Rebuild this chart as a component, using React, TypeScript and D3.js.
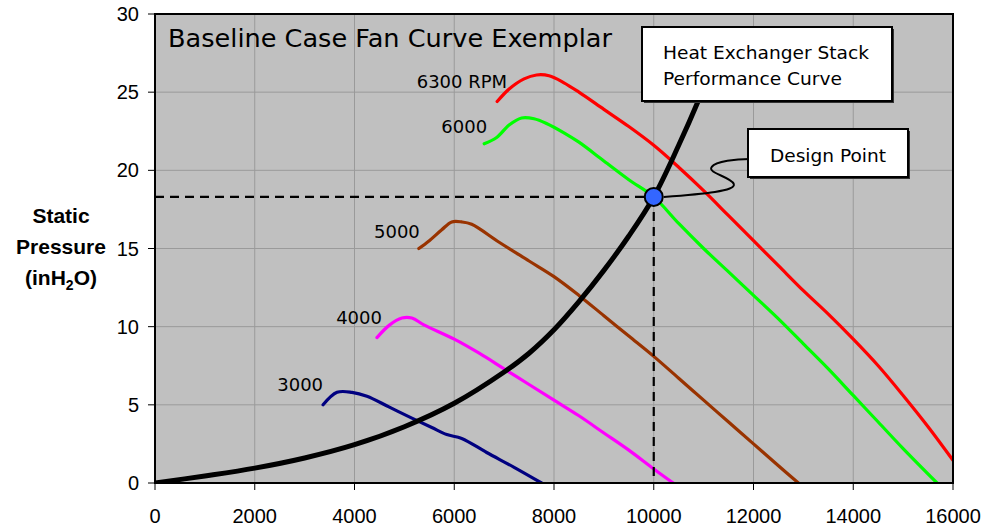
import React from "react";
import * as d3 from "d3";

const xTicks = [0, 2000, 4000, 6000, 8000, 10000, 12000, 14000, 16000];
const yTicks = [0, 5, 10, 15, 20, 25, 30];

const rpm6300: [number, number][] = [
  [6860, 24.4], [7100, 25.2], [7400, 25.85], [7650, 26.1], [7900, 26.05], [8200, 25.6], [8500, 25.0],
  [9000, 23.9], [9500, 22.8], [10000, 21.6], [10500, 20.2], [11000, 18.7], [11500, 17.1], [12000, 15.5],
  [12500, 13.9], [13000, 12.3], [13500, 10.8], [14000, 9.2], [14500, 7.5], [15000, 5.6], [15500, 3.6], [16000, 1.45],
];
const rpm6000: [number, number][] = [
  [6600, 21.7], [6850, 22.1], [7100, 22.9], [7350, 23.35], [7600, 23.3], [7850, 23.0], [8200, 22.4],
  [8500, 21.8], [9000, 20.6], [9500, 19.4], [10000, 18.3], [10500, 16.6], [11000, 15.0], [11500, 13.5],
  [12000, 12.0], [12500, 10.5], [13000, 8.9], [13500, 7.3], [14000, 5.6], [14500, 3.9], [15000, 2.2], [15680, 0],
];
const rpm5000: [number, number][] = [
  [5290, 15.0], [5500, 15.5], [5750, 16.2], [5950, 16.7], [6150, 16.7], [6350, 16.55], [6900, 15.4],
  [7500, 14.2], [8000, 13.2], [8500, 12.0], [9000, 10.7], [9500, 9.4], [10000, 8.1], [10500, 6.7],
  [11000, 5.3], [11500, 3.9], [12000, 2.5], [12500, 1.1], [12900, 0],
];
const rpm4000: [number, number][] = [
  [4450, 9.3], [4700, 10.1], [4950, 10.55], [5150, 10.55], [5400, 10.1], [6000, 9.2], [6500, 8.3],
  [7000, 7.3], [7500, 6.3], [8000, 5.3], [8500, 4.3], [9000, 3.2], [9500, 2.1], [10000, 0.9], [10390, 0],
];
const rpm3000: [number, number][] = [
  [3370, 5.0], [3650, 5.8], [3950, 5.8], [4250, 5.55], [4700, 4.85], [5150, 4.15], [5550, 3.55],
  [5850, 3.1], [6150, 2.85], [6650, 1.95], [7200, 1.0], [7750, 0],
];
const systemCurve: [number, number][] = [
  [0, 0], [1000, 0.45], [2000, 0.95], [3000, 1.6], [4000, 2.45], [5000, 3.6], [6000, 5.1],
  [7000, 7.1], [7500, 8.3], [8000, 9.8], [8500, 11.6], [9000, 13.6], [9500, 15.8], [10000, 18.3],
  [10500, 21.6], [10900, 24.5], [11000, 25.3],
];
const designPoint: [number, number] = [10000, 18.3];

const seriesNames = ["6300 RPM", "6000", "5000", "4000", "3000"];
const seriesData = [rpm6300, rpm6000, rpm5000, rpm4000, rpm3000];
const seriesColors = ["#ff0000", "#00ff00", "#993300", "#ff00ff", "#000080"];
const labelDx = [10, 3, 1, 5, 0];
const labelDy = [-14, -11, -11, -14, -14];

const W = 986, H = 529;
const L = 155, R = 953, T = 14, B = 483;

export default function App() {
  const x = d3.scaleLinear().domain([0, 16000]).range([L, R]);
  const y = d3.scaleLinear().domain([0, 30]).range([B, T]);
  const line = d3.line<[number, number]>().x(d => x(d[0])).y(d => y(d[1])).curve(d3.curveCatmullRom.alpha(0.5));
  const dpx = x(designPoint[0]);
  const dpy = y(designPoint[1]);
  const tickFont = "'Liberation Sans', Arial, sans-serif";
  const labFont = "'DejaVu Sans', Verdana, sans-serif";

  const leader = `M ${dpx + 10},${dpy} C ${dpx + 50},${dpy - 3} ${dpx + 83},${dpy - 6} ${dpx + 80},${dpy - 13} C ${dpx + 77},${dpy - 20} ${dpx + 53},${dpy - 24} ${dpx + 58},${dpy - 30} C ${dpx + 62},${dpy - 36} ${dpx + 83},${dpy - 38} ${dpx + 96},${dpy - 38}`;

  return (
    <svg width={W} height={H} style={{ position: "absolute", left: 0, top: 0, background: "#fff" }}>
      <defs>
        <clipPath id="plot">
          <rect x={L} y={T} width={R - L} height={B - T} />
        </clipPath>
      </defs>
      <rect x={L} y={T} width={R - L} height={B - T} fill="#c0c0c0" />
      {xTicks.map(t => (
        <line key={"gx" + t} x1={x(t)} x2={x(t)} y1={T} y2={B} stroke="#9a9a9a" strokeWidth={1} />
      ))}
      {yTicks.map(t => (
        <line key={"gy" + t} x1={L} x2={R} y1={y(t)} y2={y(t)} stroke="#9a9a9a" strokeWidth={1} />
      ))}
      <text x={168} y={47} fontFamily={labFont} fontSize={25} textLength={444} lengthAdjust="spacingAndGlyphs" fill="#000">
        Baseline Case Fan Curve Exemplar
      </text>
      <g clipPath="url(#plot)">
        {seriesData.map((d, i) => (
          <path key={seriesNames[i]} d={line(d) || ""} fill="none" stroke={seriesColors[i]} strokeWidth={3.2} strokeLinejoin="round" strokeLinecap="round" />
        ))}
        <line x1={L} x2={dpx} y1={dpy} y2={dpy} stroke="#000" strokeWidth={2.2} strokeDasharray="9,6" />
        <line x1={dpx} x2={dpx} y1={dpy} y2={B} stroke="#000" strokeWidth={2.2} strokeDasharray="9,6" />
        <path d={line(systemCurve) || ""} fill="none" stroke="#000" strokeWidth={5} strokeLinecap="round" />
      </g>
      {seriesData.map((d, i) => (
        <text key={"l" + i} x={x(d[0][0]) + labelDx[i]} y={y(d[0][1]) + labelDy[i]} textAnchor="end" fontFamily={labFont} fontSize={18} fill="#000">
          {seriesNames[i]}
        </text>
      ))}
      <path d={leader} fill="none" stroke="#000" strokeWidth={2} />
      <circle cx={dpx} cy={dpy} r={9} fill="#3366ff" stroke="#000" strokeWidth={2} />
      <rect x={644} y={29} width={250} height={74} fill="#333" />
      <rect x={642} y={27} width={250} height={74} fill="#fff" stroke="#000" strokeWidth={2} />
      <text x={663} y={59} fontFamily={labFont} fontSize={18} textLength={206} lengthAdjust="spacingAndGlyphs">Heat Exchanger Stack</text>
      <text x={663} y={85} fontFamily={labFont} fontSize={18} textLength={179} lengthAdjust="spacingAndGlyphs">Performance Curve</text>
      <rect x={750} y={131} width={160} height={48} fill="#333" />
      <rect x={748} y={129} width={160} height={48} fill="#fff" stroke="#000" strokeWidth={2} />
      <text x={770} y={162} fontFamily={labFont} fontSize={18} textLength={116} lengthAdjust="spacingAndGlyphs">Design Point</text>
      <rect x={L} y={T} width={R - L} height={B - T} fill="none" stroke="#000" strokeWidth={2} />
      {yTicks.map(t => (
        <g key={"ty" + t}>
          <line x1={L - 7} x2={L} y1={y(t)} y2={y(t)} stroke="#000" strokeWidth={1} />
          <text x={139} y={y(t)} dy="0.35em" textAnchor="end" fontFamily={tickFont} fontSize={20}>{t}</text>
        </g>
      ))}
      {xTicks.map(t => (
        <g key={"tx" + t}>
          <line x1={x(t)} x2={x(t)} y1={B} y2={B + 7} stroke="#000" strokeWidth={1} />
          <text x={x(t)} y={523} textAnchor="middle" fontFamily={tickFont} fontSize={20}>{t}</text>
        </g>
      ))}
      <g fontFamily={tickFont} fontSize={21} fontWeight="bold" textAnchor="middle">
        <text x={61} y={223}>Static</text>
        <text x={61} y={254}>Pressure</text>
        <text x={61} y={285}>(inH<tspan fontSize={14} dy={5}>2</tspan><tspan dy={-5}>O)</tspan></text>
      </g>
    </svg>
  );
}
